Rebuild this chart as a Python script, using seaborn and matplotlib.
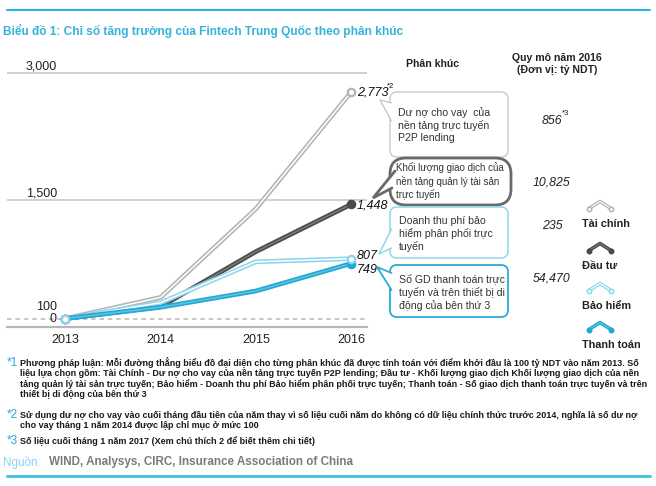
import numpy as np
import pandas as pd
import matplotlib
matplotlib.use("Agg")
import matplotlib.pyplot as plt
import matplotlib.patheffects as pe
from matplotlib.patches import FancyBboxPatch, Polygon
import seaborn as sns

# --- data -------------------------------------------------------------
years = [2013, 2014, 2015, 2016]
segments = ["Tài chính", "Đầu tư", "Bảo hiểm", "Thanh toán"]
tai_chinh = [100, 350, 1395, 2773]
dau_tu = [100, 240, 890, 1448]
bao_hiem = [100, 287, 770, 807]
thanh_toan = [100, 233, 425, 749]
end_labels = ["2,773", "1,448", "807", "749"]
size_2016 = ["856", "10,825", "235", "54,470"]
bubble_texts = [
    "Dư nợ cho vay  của\nnền tảng trực tuyến\nP2P lending",
    "Khối lượng giao dịch của\nnền tảng quản lý tài sản\ntrực tuyến",
    "Doanh thu phí bảo\nhiểm phân phối trực\ntuyến",
    "Số GD thanh toán trực\ntuyến và trên thiết bị di\nđộng của bên thứ 3",
]
ytick_vals = [3000, 1500]
ytick_labels = ["3,000", "1,500"]

series = dict(zip(segments, [tai_chinh, dau_tu, bao_hiem, thanh_toan]))
df = pd.DataFrame([(s, y, v) for s in segments for y, v in zip(years, series[s])],
                  columns=["seg", "year", "value"])

# colours: (outer stroke, inner line, hollow marker?)
styles = {
    "Tài chính": ("#b4b4b4", "white", True),
    "Đầu tư": ("#4a4a4a", "#7a7a7a", False),
    "Bảo hiểm": ("#8fd6ec", "white", True),
    "Thanh toán": ("#22a9d3", "#58c3e3", False),
}
bubble_colors = ["#c8c8c8", "#6a6a6a", "#8fd6ec", "#29acd6"]
blue = "#35b3dc"

sns.set_theme(style="white")
plt.rcParams["font.family"] = ["Liberation Sans", "DejaVu Sans"]

W, H = 656, 486
fig = plt.figure(figsize=(W / 100, H / 100), dpi=100)

# main chart in pixel box x 7..367, y 60..327
ax = fig.add_axes([7 / W, (H - 327) / H, 360 / W, (327 - 60) / H])
ax.set_facecolor("none")
x0_year = 2013 - 58.5 / 95.3
x1_year = 2016 + 16 / 95.3
ax.set_xlim(x0_year, x1_year)
ax.set_ylim(0, 3000 + 13 / (254 / 3000))

for v in ytick_vals:
    ax.axhline(v, color="#c4c4c4", lw=1.1, zorder=1)
ax.axhline(100, color="#b8b8b8", lw=1.1, ls=(0, (3, 2.5)), zorder=1)
for s in ["top", "right", "left"]:
    ax.spines[s].set_visible(False)
ax.spines["bottom"].set_color("#b8b8b8")
ax.spines["bottom"].set_linewidth(1.6)

ax.set_xticks(years)
ax.set_xticklabels([str(y) for y in years], fontsize=9, color="#222222")
ax.tick_params(axis="x", length=0, pad=5)
ax.set_yticks([])

lab_x = (57 - 7) / 360
for v, lbl in zip(ytick_vals, ytick_labels):
    ax.annotate(lbl, xy=(lab_x, v), xycoords=("axes fraction", "data"),
                xytext=(0, 7), textcoords="offset pixels", ha="right",
                va="center", fontsize=9, color="#222222")
ax.annotate("0", xy=(lab_x, 100), xycoords=("axes fraction", "data"),
            ha="right", va="center", fontsize=9, color="#222222")
ax.annotate("100", xy=(lab_x, 100), xycoords=("axes fraction", "data"),
            xytext=(0, 12), textcoords="offset pixels", ha="right",
            va="center", fontsize=9, color="#222222")

for seg in segments:
    outer, inner, hollow = styles[seg]
    sub = df[df.seg == seg]
    sns.lineplot(data=sub, x="year", y="value", color=inner, lw=1.1, ax=ax,
                 zorder=3, legend=False)
    ax.lines[-1].set_path_effects([pe.Stroke(linewidth=3.4, foreground=outer), pe.Normal()])

for seg in ["Tài chính", "Đầu tư", "Thanh toán", "Bảo hiểm"]:
    outer, inner, hollow = styles[seg]
    sub = df[df.seg == seg].iloc[[0, -1]]
    sns.scatterplot(data=sub, x="year", y="value", s=28, ax=ax, zorder=5,
                    facecolor="white" if hollow else outer, edgecolor=outer,
                    linewidth=1.6, legend=False)
ax.set_xlabel("")
ax.set_ylabel("")

# end value labels
offsets = [0, -1, 3, -6]
for seg, lbl, off in zip(segments, end_labels, offsets):
    ax.annotate(lbl, xy=(2016, series[seg][-1]), xytext=(6, off),
                textcoords="offset pixels", ha="left", va="center",
                fontsize=9, style="italic", color="#111111")
ax.annotate("*2", xy=(2016, series["Tài chính"][-1]), xytext=(36, 6),
            textcoords="offset pixels", ha="left", va="center",
            fontsize=5.5, color="#111111")

# --- overlay in pixel coordinates ------------------------------------
ov = fig.add_axes([0, 0, 1, 1])
ov.set_xlim(0, W)
ov.set_ylim(H, 0)
ov.axis("off")
ov.patch.set_alpha(0)

ov.plot([7, 650], [10, 10], color="#2bb7dc", lw=1.5)
ov.plot([7, 650], [476, 476], color="#4fc3e3", lw=2.2)
ov.text(3, 31, "Biểu đồ 1: Chỉ số tăng trưởng của Fintech Trung Quốc theo phân khúc",
        fontsize=8.6, fontweight="bold", color=blue, va="center", ha="left")

ov.text(432, 64, "Phân khúc", fontsize=7.6, fontweight="bold", ha="center",
        va="center", color="#222222")
ov.text(557, 64, "Quy mô năm 2016\n(Đơn vị: tỷ NDT)", fontsize=7.6,
        fontweight="bold", ha="center", va="center", color="#222222",
        linespacing=1.35)


def bubble(x0, y0, x1, y1, r, tip, b1, b2, color, lw):
    box = FancyBboxPatch((x0, y0), x1 - x0, y1 - y0,
                         boxstyle=f"round,pad=0,rounding_size={r}",
                         facecolor="white", edgecolor=color, lw=lw, zorder=2)
    ov.add_patch(box)
    ov.add_patch(Polygon([b1, tip, b2], closed=True, facecolor="white",
                         edgecolor="none", zorder=3))
    ov.plot([b1[0], tip[0], b2[0]], [b1[1], tip[1], b2[1]], color=color,
            lw=lw, zorder=4, solid_joinstyle="miter")


bubble(390, 92, 508, 157, 7, (380, 100), (391.5, 103), (391.5, 121), bubble_colors[0], 1.0)
bubble(390, 158, 511, 205, 16, (373, 198), (395, 171), (392, 188), bubble_colors[1], 2.0)
bubble(390, 207, 508, 258, 7, (379, 254), (391.5, 229), (391.5, 248), bubble_colors[2], 1.1)
bubble(390, 265, 508, 317, 7, (377, 267), (391.5, 273), (391.5, 290), bubble_colors[3], 1.3)

txt_pos = [(398, 125, 7.6), (396, 181, 7.0), (399, 234, 7.6), (399, 292, 7.6)]
for (tx, ty, fs), t in zip(txt_pos, bubble_texts):
    ov.text(tx, ty, t, fontsize=fs, ha="left", va="center", color="#333333",
            linespacing=1.25, zorder=5)

size_y = [121, 182, 226, 278]
for lbl, yy in zip(size_2016, size_y):
    ov.text(552, yy, lbl, fontsize=8.8, style="italic", ha="center",
            va="center", color="#222222")
ov.text(562, 113, "*3", fontsize=5.5, ha="left", va="center", color="#222222")

# legend at right
leg_y = [205, 247, 287, 326]
for seg, yy in zip(segments, leg_y):
    outer, inner, hollow = styles[seg]
    ln, = ov.plot([589, 600, 611], [yy + 3.5, yy - 3.5, yy + 3.5], color=inner,
                  lw=0.8, zorder=3)
    ln.set_path_effects([pe.Stroke(linewidth=2.6, foreground=outer), pe.Normal()])
    ov.scatter([589, 611], [yy + 3.5, yy + 3.5], s=10, zorder=4,
               facecolor="white" if hollow else outer, edgecolor=outer, lw=1.1)
    ov.text(582, yy + 19, seg, fontsize=7.8, fontweight="bold", ha="left",
            va="center", color="#222222")

# footnotes
notes = [
    ("*1", 362.5, [
        "Phương pháp luận: Mỗi đường thẳng biểu đồ đại diện cho từng phân khúc đã được tính toán với điểm khởi đầu là 100 tỷ NDT vào năm 2013. Số",
        "liệu lựa chọn gồm: Tài Chính - Dư nợ cho vay của nền tảng trực tuyến P2P lending; Đầu tư - Khối lượng giao dịch Khối lượng giao dịch của nền",
        "tảng quản lý tài sản trực tuyến; Bảo hiểm - Doanh thu phí Bảo hiểm phân phối trực tuyến; Thanh toán - Số giao dịch thanh toán trực tuyến và trên",
        "thiết bị di động của bên thứ 3",
    ]),
    ("*2", 415, [
        "Sử dụng dư nợ cho vay vào cuối tháng đầu tiên của năm thay vì số liệu cuối năm do không có dữ liệu chính thức trước 2014, nghĩa là số dư nợ",
        "cho vay tháng 1 năm 2014 được lập chỉ mục ở mức 100",
    ]),
    ("*3", 441, [
        "Số liệu cuối tháng 1 năm 2017 (Xem chú thích 2 để biết thêm chi tiết)",
    ]),
]
for mark, y0, lines in notes:
    ov.text(7, y0, mark, fontsize=8.5, color="#2aa8d8", ha="left", va="center")
    for i, line in enumerate(lines):
        ov.text(20, y0 + i * 10.6, line, fontsize=6.5, fontweight="bold",
                color="#1a1a1a", ha="left", va="center")

ov.text(3, 462, "Nguồn:", fontsize=8.4, color="#8ad3ee", ha="left", va="center")
ov.text(49, 462, "WIND, Analysys, CIRC, Insurance Association of China",
        fontsize=8.4, fontweight="bold", color="#7a7a7a", ha="left", va="center")

fig.savefig("out.png", dpi=100)
